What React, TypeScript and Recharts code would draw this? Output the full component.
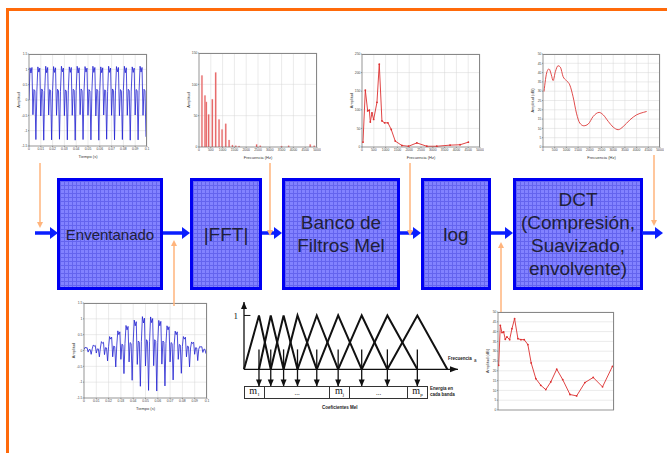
import React from "react";
import {
  LineChart,
  BarChart,
  Line,
  Bar,
  XAxis,
  YAxis,
  CartesianGrid,
  ReferenceLine,
  Label
} from "recharts";

// ---- señal original (15 periodos, 8 muestras por periodo) ----
const DT = 0.000833;
const SIGNAL = [
  0.0, 1.05, 0.88, 1.06, -0.48, 0.34, 0.3, -1.29,
  0.29, 1.08, 0.91, 1.04, -0.52, 0.36, 0.29, -1.31,
  0.31, 1.1, 0.89, 1.06, -0.49, 0.34, 0.31, -1.3,
  0.3, 1.09, 0.9, 1.05, -0.5, 0.35, 0.3, -1.28,
  0.28, 1.1, 0.92, 1.04, -0.51, 0.33, 0.29, -1.3,
  0.3, 1.08, 0.9, 1.06, -0.5, 0.35, 0.31, -1.31,
  0.31, 1.1, 0.88, 1.05, -0.48, 0.36, 0.3, -1.29,
  0.29, 1.09, 0.91, 1.04, -0.5, 0.34, 0.29, -1.3,
  0.3, 1.1, 0.9, 1.06, -0.52, 0.35, 0.3, -1.31,
  0.31, 1.08, 0.89, 1.05, -0.49, 0.33, 0.31, -1.28,
  0.28, 1.1, 0.9, 1.04, -0.5, 0.36, 0.3, -1.3,
  0.3, 1.09, 0.92, 1.06, -0.51, 0.34, 0.29, -1.29,
  0.31, 1.1, 0.89, 1.05, -0.5, 0.35, 0.3, -1.31,
  0.29, 1.08, 0.9, 1.04, -0.49, 0.34, 0.31, -1.3,
  0.3, 1.1, 0.91, 1.06, -0.5, 0.35, 0.3, -1.2
];

// ---- señal enventanada (Hamming) ----
const WINDOWED = [
  0.03, 0.1, 0.08, 0.09, -0.05, 0.03, 0.03, -0.12,
  0.05, 0.17, 0.14, 0.16, -0.08, 0.05, 0.05, -0.2,
  0.08, 0.28, 0.23, 0.26, -0.13, 0.09, 0.08, -0.33,
  0.12, 0.44, 0.36, 0.42, -0.2, 0.14, 0.12, -0.52,
  0.17, 0.62, 0.5, 0.59, -0.28, 0.2, 0.17, -0.73,
  0.22, 0.79, 0.65, 0.76, -0.36, 0.25, 0.22, -0.94,
  0.26, 0.96, 0.78, 0.91, -0.44, 0.3, 0.26, -1.13,
  0.29, 1.07, 0.87, 1.02, -0.49, 0.34, 0.29, -1.26,
  0.29, 1.06, 0.88, 1.01, -0.48, 0.34, 0.29, -1.28,
  0.26, 0.95, 0.78, 0.92, -0.43, 0.3, 0.26, -1.12,
  0.22, 0.78, 0.65, 0.75, -0.36, 0.25, 0.22, -0.93,
  0.17, 0.61, 0.5, 0.59, -0.28, 0.19, 0.17, -0.72,
  0.12, 0.44, 0.36, 0.42, -0.2, 0.14, 0.12, -0.52,
  0.08, 0.27, 0.22, 0.26, -0.12, 0.09, 0.08, -0.32,
  0.04, 0.13, 0.11, 0.12, -0.06, 0.04, 0.04, -0.1
];

const TIME_TICKS = [0, 0.01, 0.02, 0.03, 0.04, 0.05, 0.06, 0.07, 0.08, 0.09, 0.1];
const AMP_TICKS = [-1.5, -1, -0.5, 0, 0.5, 1, 1.5];
const FREQ_TICKS = [0, 500, 1000, 1500, 2000, 2500, 3000, 3500, 4000, 4500, 5000];

// ---- |FFT| ----
const FFT_FREQ = [128, 256, 312, 412, 568, 710, 852, 980, 1136, 1278, 1420, 1560, 1700, 2443, 2600, 3500, 3800, 4716, 4886];
const FFT_AMP = [114, 82, 72, 52, 76, 119, 44, 28, 37, 11, 3, 2, 1.5, 4, 2, 1.5, 2, 4, 2];

// ---- banco de filtros Mel ----
const MEL_FREQ = [42, 141, 240, 310, 352, 423, 493, 634, 732, 845, 958, 1099, 1239, 1408, 1690, 1972, 2324, 2746, 3169, 3732, 4155, 4507];
const MEL_AMP = [13, 153, 97, 99, 67, 92, 74, 120, 223, 70, 65, 65, 47, 16, 4, 2, 11, 2, 2, 5, 6, 13];

// ---- log ----
const LOG_FREQ = [26, 92, 158, 224, 289, 355, 461, 553, 658, 789, 908, 1039, 1184, 1316, 1500, 1697, 1895, 2092, 2329, 2566, 2855, 3118, 3447, 3776, 4145, 4539];
const LOG_DB = [22.8, 43.2, 39.5, 39.8, 36.1, 37.3, 35.9, 41.5, 46.6, 36.4, 35.9, 35.9, 33.4, 24.0, 16.0, 12.6, 10.4, 14.3, 20.8, 15.5, 7.9, 7.2, 14.0, 16.6, 11.8, 22.3];

// ---- DCT (envolvente) ----
const DCT_FREQ = [43, 171, 257, 357, 429, 529, 643, 743, 857, 1000, 1143, 1286, 1429, 1571, 1743, 1929, 2143, 2400, 2571, 2786, 3000, 3214, 3429, 3714, 4000, 4286, 4430];
const DCT_DB = [29.8, 40.5, 42, 38.8, 35.7, 40.5, 43.7, 42.9, 37.9, 35.7, 33.4, 27, 18.2, 12.9, 11.4, 12.3, 16.4, 18.6, 17.3, 13.8, 10.7, 9.3, 11, 14.6, 17.3, 18.6, 19.1];
const DB_TICKS = [0, 5, 10, 15, 20, 25, 30, 35, 40, 45, 50];

// ---- filtros triangulares (centros en unidades arbitrarias) ----
const TRI_CENTERS = [0, 7, 12.5, 18.5, 25, 34, 44, 55, 67, 81, 95];

const signalData = SIGNAL.map((v, i) => ({ x: i * DT, y: v }));
const windowedData = WINDOWED.map((v, i) => ({ x: i * DT, y: v }));
const fftData = FFT_FREQ.map((f, i) => ({ x: f, y: FFT_AMP[i] }));
const melData = MEL_FREQ.map((f, i) => ({ x: f, y: MEL_AMP[i] }));
const logData = LOG_FREQ.map((f, i) => ({ x: f, y: LOG_DB[i] }));
const dctData = DCT_FREQ.map((f, i) => ({ x: f, y: DCT_DB[i] }));
const triangles = TRI_CENTERS.slice(1, -1).map((c, i) => [
  { x: TRI_CENTERS[i], y: 0 },
  { x: c, y: 1 },
  { x: TRI_CENTERS[i + 2], y: 0 }
]);

const SANS = "'Liberation Sans', Arial, sans-serif";
const TICK = { fontSize: 3.4, fill: "#444", fontFamily: SANS };
const LBL = { fontSize: 4, fill: "#333", fontFamily: SANS };

interface MiniProps {
  x0: number;
  x1: number;
  y0: number;
  y1: number;
  bar?: boolean;
  data: { x: number; y: number }[];
  xDomain: number[];
  xTicks: number[];
  yDomain: number[];
  yTicks: number[];
  xLabel?: string;
  yLabel: string;
  children: React.ReactNode;
}

const Mini = ({ x0, x1, y0, y1, bar, data, xDomain, xTicks, yDomain, yTicks, xLabel, yLabel, children }: MiniProps) => {
  const Chart: any = bar ? BarChart : LineChart;
  return (
    <div style={{ position: "absolute", left: x0 - 14, top: y0 - 4 }}>
      <Chart width={x1 - x0 + 18} height={y1 - y0 + 18} data={data} margin={{ top: 4, right: 4, left: 0, bottom: 0 }}>
        <CartesianGrid stroke="#d6d6d6" strokeWidth={0.5} />
        <XAxis
          type="number"
          dataKey="x"
          domain={xDomain}
          ticks={xTicks}
          interval={0}
          height={14}
          tick={xLabel ? TICK : false}
          tickSize={1}
          tickMargin={0.5}
          stroke="#666"
          strokeWidth={0.6}
          allowDataOverflow
        >
          {xLabel && <Label value={xLabel} position="insideBottom" offset={2} style={LBL} />}
        </XAxis>
        <YAxis
          type="number"
          domain={yDomain}
          ticks={yTicks}
          interval={0}
          width={14}
          tick={TICK}
          tickSize={1}
          tickMargin={0.5}
          stroke="#666"
          strokeWidth={0.6}
          allowDataOverflow
        >
          <Label value={yLabel} angle={-90} position="insideLeft" offset={4} style={{ ...LBL, textAnchor: "middle" }} />
        </YAxis>
        {children}
      </Chart>
      <div
        style={{
          position: "absolute",
          left: 14,
          top: 4,
          width: x1 - x0,
          height: y1 - y0,
          borderTop: "1px solid #888",
          borderRight: "1px solid #888",
          boxSizing: "border-box",
          pointerEvents: "none"
        }}
      />
    </div>
  );
};

const blockStyle: React.CSSProperties = {
  position: "absolute",
  top: 178,
  height: 112,
  boxSizing: "border-box",
  border: "3px solid #0000f2",
  backgroundColor: "#8282ff",
  backgroundImage:
    "linear-gradient(#6464ee 1px, transparent 1px), linear-gradient(90deg, #6464ee 1px, transparent 1px)",
  backgroundSize: "4px 4px",
  display: "flex",
  alignItems: "center",
  justifyContent: "center",
  textAlign: "center",
  fontFamily: SANS,
  fontSize: 19,
  lineHeight: "23px",
  color: "#20203a"
};

const BLOCKS = [
  { left: 57, width: 106, text: "Enventanado", size: 15 },
  { left: 190, width: 72, text: "|FFT|", size: 19 },
  { left: 282, width: 118, text: "Banco de\nFiltros Mel", size: 19 },
  { left: 421, width: 70, text: "log", size: 19 },
  { left: 513, width: 130, text: "DCT\n(Compresión,\nSuavizado,\nenvolvente)", size: 19 }
];

const BLUE = "#0a1eff";
const ORANGE = "#ffb47c";

const downHead = (x: number, y: number, w = 3, h = 6) => `${x - w},${y - h} ${x + w},${y - h} ${x},${y}`;

const Connectors = () => (
  <svg width={667} height={453} style={{ position: "absolute", left: 0, top: 0, pointerEvents: "none" }}>
    {[
      [35, 50],
      [163, 182],
      [262, 274],
      [400, 413],
      [491, 505],
      [642, 655]
    ].map(([a, b], i) => (
      <g key={i}>
        <line x1={a} y1={233} x2={b} y2={233} stroke={BLUE} strokeWidth={3.5} />
        <polygon points={`${b},227 ${b + 8},233 ${b},239`} fill={BLUE} />
      </g>
    ))}
    {[
      [40, 163, 228],
      [270, 163, 236],
      [410, 163, 236],
      [654, 155, 226]
    ].map(([x, a, b], i) => (
      <g key={i}>
        <line x1={x} y1={a} x2={x} y2={b - 5} stroke={ORANGE} strokeWidth={1.5} />
        <polygon points={downHead(x, b)} fill={ORANGE} />
      </g>
    ))}
    {[
      [174, 306, 240],
      [501, 312, 242]
    ].map(([x, a, b], i) => (
      <g key={i}>
        <line x1={x} y1={a} x2={x} y2={b + 5} stroke={ORANGE} strokeWidth={1.5} />
        <polygon points={`${x - 3},${b + 6} ${x + 3},${b + 6} ${x},${b}`} fill={ORANGE} />
      </g>
    ))}
  </svg>
);

const arrowShape = (dir: "up" | "right" | "down") => (p: any) => {
  const { x1, y1, x2, y2 } = p;
  let head = "";
  if (dir === "up") head = `${x2 - 3},${y2 + 7} ${x2 + 3},${y2 + 7} ${x2},${y2}`;
  if (dir === "right") head = `${x2 - 8},${y2 - 3} ${x2 - 8},${y2 + 3} ${x2},${y2}`;
  if (dir === "down") head = `${x2 - 3},${y2 - 7} ${x2 + 3},${y2 - 7} ${x2},${y2}`;
  return (
    <g>
      <line x1={x1} y1={y1} x2={x2} y2={y2} stroke="#111" strokeWidth={1.3} />
      <polygon points={head} fill="#111" />
    </g>
  );
};

const FilterBank = () => (
  <div style={{ position: "absolute", left: 232, top: 302 }}>
    <LineChart width={240} height={85} margin={{ top: 0, right: 14, left: 0, bottom: 17.7 }}>
      <XAxis type="number" dataKey="x" domain={[0, 100]} hide />
      <YAxis
        type="number"
        domain={[0, 1.25]}
        ticks={[1]}
        width={12}
        axisLine={false}
        tickLine={false}
        tickMargin={0}
        tick={{ fontSize: 9, fill: "#111", fontFamily: "'Liberation Serif', serif" }}
      />
      <ReferenceLine segment={[{ x: 0, y: 0 }, { x: 0, y: 1.25 }]} ifOverflow="visible" shape={arrowShape("up")} />
      <ReferenceLine segment={[{ x: 0, y: 0 }, { x: 100, y: 0 }]} ifOverflow="visible" shape={arrowShape("right")} />
      <ReferenceLine segment={[{ x: 0, y: 1 }, { x: 3, y: 1 }]} ifOverflow="visible" stroke="#111" strokeWidth={1} />
      {triangles.map((t, i) => (
        <Line
          key={i}
          data={t}
          dataKey="y"
          stroke="#111"
          strokeWidth={2}
          dot={false}
          isAnimationActive={false}
          type="linear"
        />
      ))}
      {TRI_CENTERS.slice(1, -1).map((c, i) => (
        <ReferenceLine
          key={"a" + i}
          segment={[{ x: c, y: 0.37 }, { x: c, y: -0.32 }]}
          ifOverflow="visible"
          shape={arrowShape("down")}
        />
      ))}
    </LineChart>
  </div>
);

const tiny: React.CSSProperties = {
  position: "absolute",
  fontFamily: SANS,
  fontSize: 4.5,
  fontWeight: "bold",
  color: "#222",
  whiteSpace: "nowrap",
  lineHeight: "6px"
};

const cell = (l: number, w: number, content: React.ReactNode) => (
  <div
    style={{
      position: "absolute",
      left: l,
      top: 386,
      width: w,
      height: 13,
      boxSizing: "border-box",
      border: "1px solid #333",
      display: "flex",
      alignItems: "center",
      justifyContent: "center",
      fontFamily: "'Liberation Serif', serif",
      fontSize: 10,
      lineHeight: "10px",
      color: "#111"
    }}
  >
    {content}
  </div>
);

const Sub = ({ s }: { s: string }) => (
  <span>
    m<span style={{ fontSize: 5, verticalAlign: "-2px" }}>{s}</span>
  </span>
);

const MelBox = () => (
  <>
    {cell(244, 21, <Sub s="1" />)}
    {cell(264, 66, <span style={{ fontSize: 7 }}>...</span>)}
    {cell(329, 21, <Sub s="j" />)}
    {cell(349, 59, <span style={{ fontSize: 7 }}>...</span>)}
    {cell(407, 21, <Sub s="p" />)}
    <div style={{ ...tiny, left: 430, top: 386 }}>
      Energia en
      <br />
      cada banda
    </div>
    <div style={{ ...tiny, left: 448, top: 356 }}>Frecuencia</div>
    <div style={{ ...tiny, left: 322, top: 405 }}>Coeficientes Mel</div>
  </>
);

const App = () => (
  <div
    style={{
      position: "absolute",
      left: 0,
      top: 0,
      width: 667,
      height: 453,
      background: "#fff",
      overflow: "hidden"
    }}
  >
    <div
      style={{
        position: "absolute",
        left: 6,
        top: 8,
        width: 700,
        height: 500,
        borderTop: "3px solid #ff6a0a",
        borderLeft: "3px solid #ff6a0a"
      }}
    />

    <Mini x0={29} x1={147} y0={54} y1={146} data={signalData} xDomain={[0, 0.1]} xTicks={TIME_TICKS}
      yDomain={[-1.5, 1.5]} yTicks={AMP_TICKS} xLabel="Tiempo (s)" yLabel="Amplitud">
      <Line dataKey="y" stroke="#2020d0" strokeWidth={0.8} dot={false} isAnimationActive={false} />
    </Mini>

    <Mini x0={199} x1={317} y0={53} y1={147} bar data={fftData} xDomain={[0, 5000]} xTicks={FREQ_TICKS}
      yDomain={[0, 150]} yTicks={[0, 50, 100, 150]} xLabel="Frecuencia (Hz)" yLabel="Amplitud">
      <Bar dataKey="y" fill="#e04848" stroke="#f2a0a0" strokeWidth={0.4} barSize={1.6} isAnimationActive={false} />
    </Mini>

    <Mini x0={362} x1={480} y0={54} y1={147} data={melData} xDomain={[0, 5000]} xTicks={FREQ_TICKS}
      yDomain={[0, 250]} yTicks={[0, 50, 100, 150, 200, 250]} xLabel="Frecuencia (Hz)" yLabel="Amplitud">
      <Line dataKey="y" stroke="#dd3030" strokeWidth={0.9} dot={{ r: 0.9, fill: "#dd3030", stroke: "none" }} isAnimationActive={false} />
    </Mini>

    <Mini x0={543} x1={660} y0={54} y1={147} data={dctData} xDomain={[0, 5000]} xTicks={FREQ_TICKS}
      yDomain={[0, 50]} yTicks={DB_TICKS} xLabel="Frecuencia (Hz)" yLabel="Amplitud (dB)">
      <Line dataKey="y" type="monotone" stroke="#dd3838" strokeWidth={0.9} dot={false} isAnimationActive={false} />
    </Mini>

    {BLOCKS.map((b) => (
      <div key={b.text} style={{ ...blockStyle, left: b.left, width: b.width, fontSize: b.size, whiteSpace: "pre-line" }}>
        {b.text}
      </div>
    ))}

    <Mini x0={84} x1={207} y0={303} y1={398} data={windowedData} xDomain={[0, 0.1]} xTicks={TIME_TICKS}
      yDomain={[-1.5, 1.5]} yTicks={AMP_TICKS} xLabel="Tiempo (s)" yLabel="Amplitud">
      <Line dataKey="y" stroke="#2020d0" strokeWidth={0.8} dot={false} isAnimationActive={false} />
    </Mini>

    <FilterBank />
    <MelBox />

    <Mini x0={498} x1={614} y0={312} y1={410} data={logData} xDomain={[0, 4600]} xTicks={[0, 500, 1000, 1500, 2000, 2500, 3000, 3500, 4000, 4500]}
      yDomain={[0, 50]} yTicks={DB_TICKS} yLabel="Amplitud (dB)">
      <Line dataKey="y" stroke="#dd3030" strokeWidth={0.9} dot={{ r: 0.9, fill: "#dd3030", stroke: "none" }} isAnimationActive={false} />
    </Mini>
    <div style={{ ...tiny, fontWeight: "normal", left: 474, top: 358 }}>a</div>

    <Connectors />
  </div>
);

export default App;
